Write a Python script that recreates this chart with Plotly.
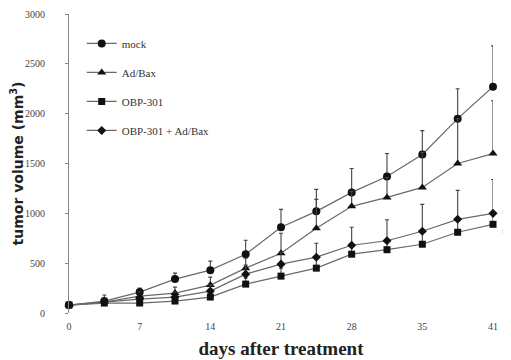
import plotly.graph_objects as go

days = [0, 3.5, 7, 10.5, 14, 17.5, 21, 24.5, 28, 31.5, 35, 38.5, 42]
tick_vals = [0, 7, 14, 21, 28, 35, 42]
tick_text = ["0", "7", "14", "21", "28", "35", "41"]

mock = [80, 120, 210, 340, 430, 590, 860, 1020, 1210, 1370, 1590, 1950, 2270]
mock_err = [20, 60, 40, 60, 90, 140, 180, 220, 240, 230, 240, 300, 410]

adbax = [80, 110, 170, 200, 280, 450, 600, 850, 1070, 1160, 1260, 1500, 1600]
adbax_err = [20, 40, 40, 60, 80, 100, 200, 290, 150, 200, 350, 450, 530]

obp = [80, 100, 100, 120, 160, 290, 370, 450, 590, 635, 690, 810, 890]
obp_err = [15, 20, 20, 30, 40, 60, 80, 90, 100, 100, 120, 120, 110]

combo = [80, 110, 140, 160, 220, 390, 490, 560, 680, 725, 820, 940, 1000]
combo_err = [20, 30, 30, 50, 60, 90, 120, 140, 180, 210, 270, 290, 340]

names = ["mock", "Ad/Bax", "OBP-301", "OBP-301 + Ad/Bax"]
symbols = ["circle", "triangle-up", "square", "diamond"]
sizes = [8, 8, 7, 7]
series = [mock, adbax, obp, combo]
errors = [mock_err, adbax_err, obp_err, combo_err]

fig = go.Figure()
for i, (nm, sym, sz, ys, er) in enumerate(zip(names, symbols, sizes, series, errors)):
    fig.add_trace(go.Scatter(
        x=days, y=ys, name=nm, mode="lines+markers",
        legendgroup=f"g{i}",
        line=dict(color="#6a6a6a", width=1.2),
        marker=dict(symbol=sym, size=sz, color="#111111"),
        error_y=dict(type="data", array=er, arrayminus=[0] * len(er), symmetric=False,
                     color="#444444", thickness=1.1, width=2),
        cliponaxis=False,
    ))

fig.add_annotation(x=42, xref="x", y=1000, yref="y", text="*", showarrow=False,
                   xanchor="center", xshift=12, yshift=-1,
                   font=dict(family="Liberation Serif", size=12, color="#333"))
fig.add_annotation(x=42, xref="x", y=890, yref="y", text="*", showarrow=False,
                   xanchor="center", xshift=12, yshift=-9,
                   font=dict(family="Liberation Serif", size=12, color="#333"))

# page body has an 8px default margin, so the figure is 8px smaller and offset
fig.update_layout(
    width=503, height=352,
    margin=dict(l=61, r=18, t=6, b=47),
    paper_bgcolor="white", plot_bgcolor="white",
    showlegend=True,
    legend=dict(x=0.03, y=0.95, xanchor="left", yanchor="top",
                bgcolor="rgba(0,0,0,0)", tracegroupgap=10, itemwidth=30,
                font=dict(family="Liberation Serif", size=11, color="#333")),
    font=dict(family="Liberation Serif", color="#333"),
)
fig.update_xaxes(range=[0, 42], tickvals=tick_vals, ticktext=tick_text, automargin=False,
                 showgrid=False, zeroline=False, showline=False, ticks="",
                 ticklabelstandoff=6,
                 tickfont=dict(family="Liberation Serif", size=10, color="#444"),
                 title=dict(text="<b>days after treatment</b>", standoff=10,
                            font=dict(family="Liberation Serif", size=19, color="#222")))
fig.update_yaxes(range=[0, 3000], tickvals=[0, 500, 1000, 1500, 2000, 2500, 3000], automargin=False,
                 showgrid=False, zeroline=False, showline=True, linecolor="#888", linewidth=1,
                 ticks="outside", ticklen=3, tickcolor="#888", ticklabelstandoff=18,
                 tickfont=dict(family="Liberation Serif", size=10, color="#444"),
                 title=dict(text="<b>tumor volume (mm<sup>3</sup>)</b>", standoff=2,
                            font=dict(family="DejaVu Sans", size=14, color="#222")))

fig.write_html("out.html")
